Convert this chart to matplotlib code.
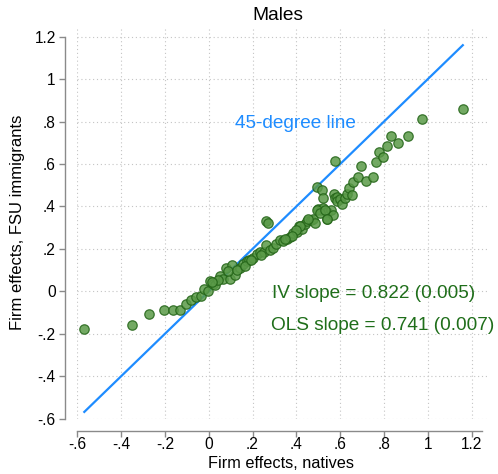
import numpy as np
import matplotlib
matplotlib.use("Agg")
import matplotlib.pyplot as plt

plt.rcParams['font.family'] = ['Liberation Sans', 'DejaVu Sans']

# firm effects, natives (x) vs FSU immigrants (y)
x_nat = [-0.568, -0.349, -0.271, -0.205, -0.162, -0.130, -0.102, -0.081, -0.058, -0.035,
         -0.021, -0.003, 0.005, 0.021, 0.027, 0.052, 0.064, 0.078, 0.097, 0.108,
         0.120, 0.143, 0.158, 0.174, 0.185, 0.204, 0.219, 0.234, 0.253, 0.260,
         0.263, 0.271, 0.280, 0.295, 0.307, 0.326, 0.338, 0.356, 0.371, 0.386,
         0.404, 0.414, 0.425, 0.440, 0.450, 0.466, 0.475, 0.487, 0.493, 0.498,
         0.511, 0.516, 0.521, 0.523, 0.539, 0.539, 0.557, 0.569, 0.572, 0.578,
         0.578, 0.584, 0.587, 0.600, 0.607, 0.622, 0.630, 0.639, 0.654, 0.660,
         0.683, 0.695, 0.718, 0.749, 0.764, 0.778, 0.797, 0.816, 0.832, 0.866,
         0.909, 0.973, 1.160,
         0.493, 0.508, 0.530, 0.542, 0.455, 0.417, 0.400, 0.378, 0.350, 0.044,
         0.090, 0.130, 0.165, 0.195, 0.240, 0.014]
y_fsu = [-0.179, -0.160, -0.105, -0.086, -0.086, -0.086, -0.061, -0.039, -0.026, -0.023,
         0.013, 0.000, 0.049, 0.037, 0.029, 0.073, 0.060, 0.112, 0.056, 0.122,
         0.076, 0.112, 0.131, 0.142, 0.147, 0.155, 0.178, 0.186, 0.186, 0.217,
         0.332, 0.320, 0.194, 0.202, 0.225, 0.244, 0.238, 0.249, 0.257, 0.273,
         0.280, 0.307, 0.296, 0.316, 0.332, 0.335, 0.343, 0.323, 0.492, 0.386,
         0.383, 0.477, 0.438, 0.395, 0.375, 0.343, 0.383, 0.359, 0.458, 0.615,
         0.438, 0.445, 0.426, 0.433, 0.414, 0.438, 0.461, 0.485, 0.453, 0.516,
         0.540, 0.592, 0.521, 0.540, 0.609, 0.658, 0.634, 0.686, 0.732, 0.697,
         0.732, 0.810, 0.859,
         0.383, 0.367, 0.383, 0.343, 0.343, 0.307, 0.290, 0.263, 0.249, 0.055,
         0.095, 0.100, 0.120, 0.150, 0.170, 0.044]

ticks = [-0.6, -0.4, -0.2, 0, 0.2, 0.4, 0.6, 0.8, 1, 1.2]
tick_labels = ['-.6', '-.4', '-.2', '0', '.2', '.4', '.6', '.8', '1', '1.2']

W, H = 498, 474
fig = plt.figure(figsize=(W / 100, H / 100), dpi=100)
ax = fig.add_axes([77.3 / W, 1 - 418.7 / H, (488 - 77.3) / W, (418.7 - 28) / H])

ax.set_xlim(-0.6, 1.275)
ax.set_ylim(-0.6, 1.241)

# 45-degree line over the data range
lo, hi = min(x_nat), max(x_nat)
ax.plot([lo, hi], [lo, hi], color='#1e8cff', lw=1.6, zorder=2)

ax.scatter(x_nat, y_fsu, s=46, facecolor='#5a9a48', edgecolor='#236417',
           linewidths=0.9, alpha=0.85, zorder=3)

ax.text(0.120, 0.792, '45-degree line', color='#1e8cff', fontsize=13.7,
        ha='left', va='center')
ax.text(0.290, -0.010, 'IV slope = 0.822 (0.005)', color='#1f6e1a', fontsize=13.7,
        ha='left', va='center')
ax.text(0.283, -0.160, 'OLS slope = 0.741 (0.007)', color='#1f6e1a', fontsize=13.7,
        ha='left', va='center', clip_on=False)

ax.set_xticks(ticks)
ax.set_xticklabels(tick_labels)
ax.set_yticks(ticks)
ax.set_yticklabels(tick_labels)
ax.grid(True, linestyle=(0, (1, 2.5)), color='#c4c4c4', lw=0.8)
ax.set_axisbelow(True)

for s in ['top', 'right']:
    ax.spines[s].set_visible(False)
for s in ['left', 'bottom']:
    ax.spines[s].set_position(('outward', 9))
    ax.spines[s].set_color('#8a8a8a')
    ax.spines[s].set_linewidth(1.0)
ax.spines['left'].set_bounds(-0.6, 1.2)
ax.spines['bottom'].set_bounds(-0.6, 1.248)
ax.tick_params(axis='both', colors='#8a8a8a', labelcolor='black', length=4,
               width=1.0, labelsize=11.2)
ax.tick_params(axis='x', pad=0.5)
ax.tick_params(axis='y', pad=2.5)

fig.text(278 / W, 1 - 15 / H, 'Males', fontsize=13.8, ha='center', va='center')
fig.text(281 / W, 1 - 463 / H, 'Firm effects, natives', fontsize=11.7,
         ha='center', va='center')
fig.text(17.5 / W, 1 - 222.5 / H, 'Firm effects, FSU immigrants', fontsize=12,
         ha='center', va='center', rotation=90)

fig.savefig('out.png', dpi=100)
